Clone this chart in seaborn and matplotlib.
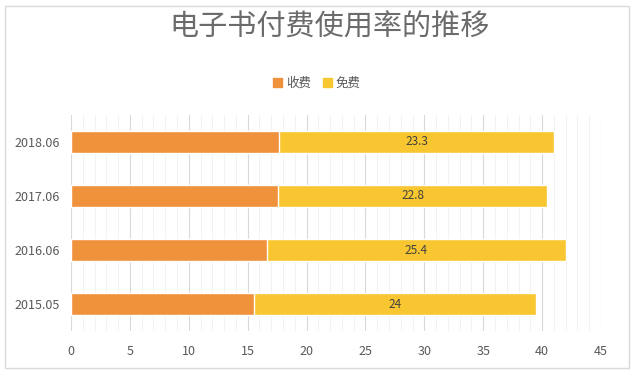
"""
电子书付费使用率的推移 - stacked horizontal bars
"""

import matplotlib.pyplot as plt
import pandas as pd
import seaborn as sns
from matplotlib.patches import Patch, Rectangle
from matplotlib.ticker import MultipleLocator

periods = ["2018.06", "2017.06", "2016.06", "2015.05"]
paid = [17.7, 17.6, 16.6, 15.5]   # 收费
free = [23.3, 22.8, 25.4, 24.0]   # 免费
free_labels = ["23.3", "22.8", "25.4", "24"]

orange = "#F0913B"
yellow = "#F8C630"
grey = "#595959"

df = pd.DataFrame({"period": periods, "paid": paid, "free": free})
df["total"] = df["paid"] + df["free"]

sns.set_style("white")
plt.rcParams["font.family"] = ["Noto Sans CJK SC", "DejaVu Sans"]

fig = plt.figure(figsize=(6.34, 3.72), dpi=100)
ax = fig.add_axes([0.112, 0.11, 0.836, 0.581])

# yellow = total, orange drawn over it
sns.barplot(data=df, x="total", y="period", color=yellow, width=0.4,
            saturation=1, ax=ax, zorder=3)
sns.barplot(data=df, x="paid", y="period", color=orange, width=0.4,
            saturation=1, ax=ax, zorder=3)

for i, row in df.iterrows():
    ax.text(row["paid"] + row["free"] / 2, i, free_labels[i],
            ha="center", va="center", fontsize=8.5, color="#404040", zorder=4)

ax.set_xlim(0, 45)
ax.set_ylim(3.5, -0.5)
ax.xaxis.set_major_locator(MultipleLocator(5))
ax.xaxis.set_minor_locator(MultipleLocator(1))
ax.grid(axis="x", which="major", color="#d9d9d9", linewidth=0.8, zorder=0)
ax.grid(axis="x", which="minor", color="#f0f0f0", linewidth=0.6, zorder=0)
ax.set_axisbelow(True)
for s in ax.spines.values():
    s.set_visible(False)
ax.tick_params(axis="both", which="both", length=0, colors=grey, labelsize=9)
ax.tick_params(axis="x", pad=10)
ax.tick_params(axis="y", pad=8)
ax.set_xlabel("")
ax.set_ylabel("")

fig.text(0.52, 0.925, "电子书付费使用率的推移", ha="center", va="center",
         fontsize=21, color="#6b6b6b", fontweight="light")

handles = [Patch(color=orange, label="收费"), Patch(color=yellow, label="免费")]
fig.legend(handles=handles, loc="center", bbox_to_anchor=(0.5, 0.775), ncol=2,
           frameon=False, fontsize=9, handlelength=0.7, handleheight=0.7,
           handletextpad=0.3, columnspacing=1.0, labelcolor=grey)

fig.patches.append(Rectangle((0.008, 0.01), 0.984, 0.975, transform=fig.transFigure,
                             fill=False, edgecolor="#d9d9d9", linewidth=1))

plt.savefig("out.png", dpi=100)
